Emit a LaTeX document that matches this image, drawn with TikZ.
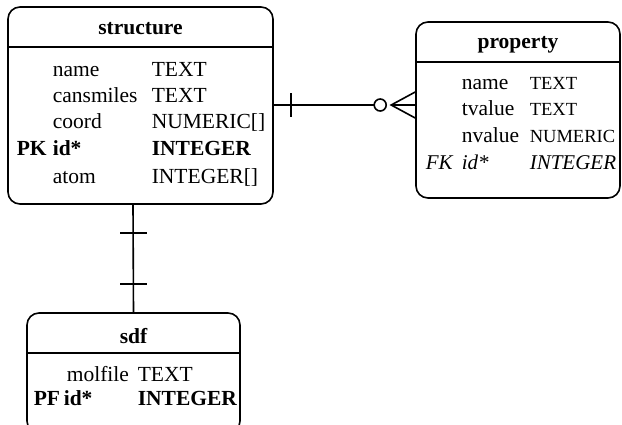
\documentclass[tikz,border=0pt]{standalone}
\usepackage{fontspec}
\setmainfont{Liberation Serif}
\begin{document}
\begin{tikzpicture}[x=1pt,y=-1pt,line width=1.6pt,
  tbl/.style={draw,rounded corners=12pt,minimum width=#1,inner sep=0pt},
  cell/.style={anchor=base west,inner sep=0pt,font=\fontsize{21.5}{24}\selectfont},
  bcell/.style={cell,font=\fontsize{21.5}{24}\selectfont\bfseries},
  icell/.style={cell,font=\fontsize{21}{24}\selectfont\itshape},
  pcell/.style={anchor=base west,inner sep=0pt,font=\fontsize{18.5}{24}\selectfont},
  ttl/.style={anchor=base,inner sep=0pt,font=\fontsize{21.5}{24}\selectfont\bfseries}]
\clip (0,0) rectangle (622,424);
\useasboundingbox (0,0) rectangle (622,424);
% structure
\node[tbl=265pt,minimum height=197pt] (structure) at (140.5,105.5) {};
\draw (structure.west |- 0,47) -- (structure.east |- 0,47);
\node[ttl] (st-t) at (140.5,34) {structure};
\node[cell] (s1a) at (52,76) {name};
\node[cell] (s1b) at (151,76) {TEXT};
\node[cell] (s2a) at (52,102) {cansmiles};
\node[cell] (s2b) at (151,102) {TEXT};
\node[cell] (s3a) at (52,128.5) {coord};
\node[cell] (s3b) at (151,128.5) {NUMERIC[]};
\node[bcell] (s4k) at (16,155) {PK};
\node[bcell] (s4a) at (52,155) {id*};
\node[bcell] (s4b) at (151,155) {INTEGER};
\node[cell] (s5a) at (52,183) {atom};
\node[cell] (s5b) at (151,183) {INTEGER[]};
% property
\node[tbl=204pt,minimum height=176pt] (property) at (518,110) {};
\draw (property.west |- 0,62) -- (property.east |- 0,62);
\node[ttl] (pr-t) at (518,48) {property};
\node[cell] (p1a) at (461,89) {name};
\node[pcell] (p1b) at (529,89) {TEXT};
\node[cell] (p2a) at (461,115.5) {tvalue};
\node[pcell] (p2b) at (529,115.5) {TEXT};
\node[cell] (p3a) at (461,142) {nvalue};
\node[pcell] (p3b) at (529,142) {NUMERIC};
\node[icell] (p4k) at (425,169) {FK};
\node[icell] (p4a) at (461,169) {id*};
\node[icell] (p4b) at (529,169) {INTEGER};
% sdf
\node[tbl=213pt,minimum height=120pt] (sdf) at (133.5,373) {};
\draw (sdf.west |- 0,353) -- (sdf.east |- 0,353);
\node[ttl] (sd-t) at (133.5,343) {sdf};
\node[cell] (d1a) at (66,381) {molfile};
\node[cell] (d1b) at (137,381) {TEXT};
\node[bcell] (d2k) at (33,405) {PF};
\node[bcell] (d2a) at (63,405) {id*};
\node[bcell] (d2b) at (137,405) {INTEGER};
% connector structure - property
\coordinate (c1s) at (structure.east |- 0,105);
\coordinate (c1p) at (property.west |- 0,105);
\draw (c1s) -- ([xshift=-41.5pt]c1p);
\draw ([xshift=-24pt]c1p) -- (c1p);
\draw ([xshift=17pt]c1s) ++(0,-12) -- ++(0,24);
\draw ([xshift=-35pt]c1p) circle (6pt);
\draw ([shift={(0,-13)}]c1p) -- ([xshift=-24pt]c1p) -- ([shift={(0,13)}]c1p);
% connector structure - sdf
\coordinate (c2s) at (structure.south -| 133,0);
\coordinate (c2d) at (sdf.north);
\draw (c2s) -- (c2d);
\draw (120,233) -- (147,233);
\draw (120,284) -- (147,284);
\end{tikzpicture}
\end{document}
